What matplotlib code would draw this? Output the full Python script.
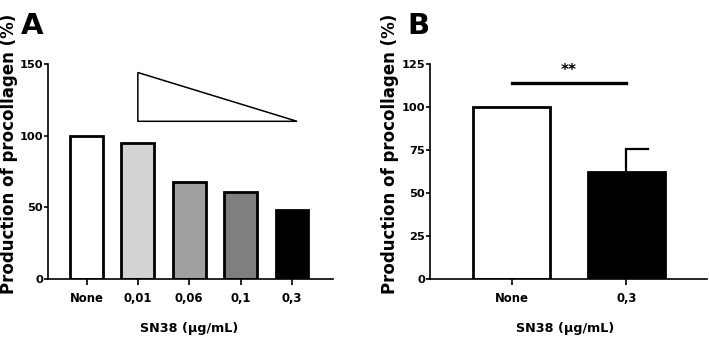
import matplotlib.pyplot as plt
from matplotlib.patches import Polygon

plt.rcParams['font.family'] = ['DejaVu Sans']
plt.rcParams['font.weight'] = 'bold'

# panel A data
doses_a = ['None', '0,01', '0,06', '0,1', '0,3']
values_a = [100, 95, 68, 61, 48]
colors_a = ['white', '#d3d3d3', '#a0a0a0', '#7f7f7f', 'black']

# panel B data
doses_b = ['None', '0,3']
values_b = [100, 62.5]
errors_b = [0, 13]
colors_b = ['white', 'black']
sig_level = 114
sig_text = '**'

# gradient triangle (data coords)
tri_x = [1, 1, 4.1]
tri_y = [110, 144, 110]

fig = plt.figure(figsize=(7.09, 3.4), dpi=100)
ax_a = fig.add_axes([0.0677, 0.179, 0.402, 0.633])
ax_b = fig.add_axes([0.6065, 0.179, 0.3905, 0.633])


def style_axis(ax, ylab_x, xlab_x):
    for side in ['top', 'right']:
        ax.spines[side].set_visible(False)
    for side in ['left', 'bottom']:
        ax.spines[side].set_linewidth(1.2)
    ax.tick_params(axis='y', direction='out', length=2.6, width=1.2, labelsize=8.2, pad=1)
    ax.tick_params(axis='x', direction='out', length=4.5, width=1.2, labelsize=8.4, pad=5)
    ax.set_xlabel('SN38 (µg/mL)', fontsize=9.2, fontweight='bold')
    ax.set_ylabel('Production of procollagen (%)', fontsize=12, fontweight='bold')
    ax.yaxis.set_label_coords(ylab_x, 0.584)
    ax.xaxis.set_label_coords(xlab_x, -0.2)


# Panel A
xa = range(len(doses_a))
ax_a.bar(xa, values_a, width=0.64, color=colors_a, edgecolor='black', linewidth=2)
ax_a.add_patch(Polygon(list(zip(tri_x, tri_y)), closed=True, facecolor='white',
                       edgecolor='black', linewidth=1.1, clip_on=False))
ax_a.set_xticks(list(xa))
ax_a.set_xticklabels(doses_a)
ax_a.set_xlim(-0.75, 4.8)
ax_a.set_ylim(0, 150)
ax_a.set_yticks([0, 50, 100, 150])
style_axis(ax_a, -0.104, 0.496)
fig.text(0.029, 0.9, 'A', fontsize=21, fontweight='bold')

# Panel B
xb = range(len(doses_b))
ax_b.bar(xb, values_b, width=0.67, color=colors_b, edgecolor='black', linewidth=2)
ax_b.errorbar([1], [values_b[1]], yerr=[[0], [errors_b[1]]], fmt='none',
              ecolor='black', elinewidth=1.6, capsize=0)
ax_b.plot([1, 1.19], [values_b[1] + errors_b[1]] * 2, color='black', linewidth=1.6)
ax_b.plot([0, 1], [sig_level, sig_level], color='black', linewidth=2.4)
ax_b.text(0.5, sig_level + 3, sig_text, ha='center', va='bottom', fontsize=11, fontweight='bold')
ax_b.set_xticks(list(xb))
ax_b.set_xticklabels(doses_b)
ax_b.set_xlim(-0.71, 1.7)
ax_b.set_ylim(0, 125)
ax_b.set_yticks([0, 25, 50, 75, 100, 125])
style_axis(ax_b, -0.112, 0.487)
fig.text(0.574, 0.9, 'B', fontsize=21, fontweight='bold')

fig.savefig('out.png', dpi=100)
